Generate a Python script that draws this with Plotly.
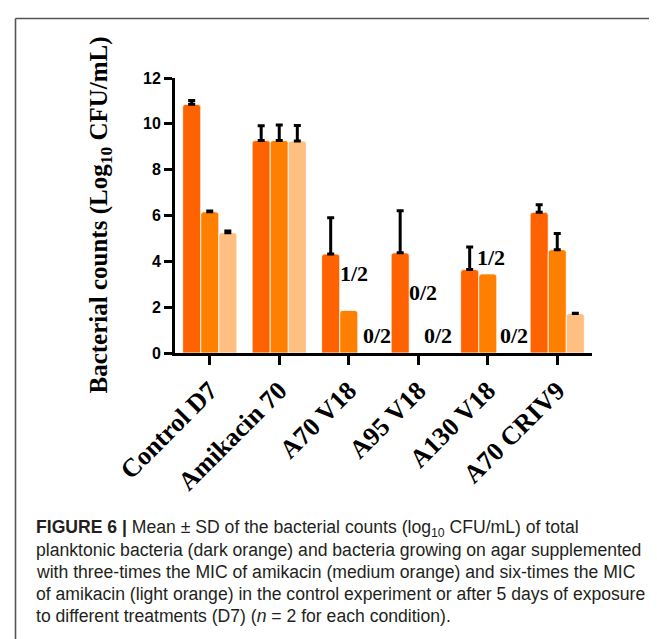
import plotly.graph_objects as go

categories = ["Control D7", "Amikacin 70", "A70 V18", "A95 V18", "A130 V18", "A70 CRIV9"]
total_counts = [10.85, 9.27, 4.32, 4.37, 3.64, 6.14]
total_sd = [0.17, 0.65, 1.58, 1.84, 0.99, 0.33]
mic3_counts = [6.16, 9.27, 1.86, 0, 3.45, 4.51]
mic3_sd = [0.04, 0.68, None, None, None, 0.70]
mic6_counts = [5.25, 9.25, 0, 0, 0, 1.72]
mic6_sd = [0.07, 0.68, None, None, None, 0.02]

# fraction labels: (category index, offset within group, y value, text)
frac_labels = [
    (2, 0.08, 3.49, "1/2"),
    (2, 0.40, 0.76, "0/2"),
    (3, 0.07, 2.64, "0/2"),
    (3, 0.29, 0.76, "0/2"),
    (4, 0.04, 4.17, "1/2"),
    (4, 0.38, 0.76, "0/2"),
]

caption_lines = [
    "<b>FIGURE 6 |</b> Mean ± SD of the bacterial counts (log<sub>10</sub> CFU/mL) of total",
    "planktonic bacteria (dark orange) and bacteria growing on agar supplemented",
    "with three-times the MIC of amikacin (medium orange) and six-times the MIC",
    "of amikacin (light orange) in the control experiment or after 5 days of exposure",
    "to different treatments (D7) (<i>n</i> = 2 for each condition).",
]

W, H = 657, 639
L, R, T, B = 167, 73, 70, 294
pw, ph = W - L - R, H - T - B


def px_x(p):
    return (p - L) / pw


def px_y(p):
    return (H - B - p) / ph


colors = ["#FF6200", "#FF8000", "#FFBF80"]
series = [(total_counts, total_sd), (mic3_counts, mic3_sd), (mic6_counts, mic6_sd)]
names = ["Total", "3x MIC", "6x MIC"]
xs = list(range(len(categories)))

fig = go.Figure()
for (vals, sd), c, n in zip(series, colors, names):
    has_sd = [s is not None for s in sd]
    # bars that carry an SD (error bar drawn upward only)
    fig.add_trace(go.Bar(
        x=xs, y=[v if h else None for v, h in zip(vals, has_sd)], name=n, offsetgroup=n,
        marker=dict(color=c, line=dict(color="white", width=0.8), cornerradius=3),
        error_y=dict(type="data", symmetric=False,
                     array=[s if h else 0 for s, h in zip(sd, has_sd)],
                     arrayminus=[0] * len(sd),
                     color="black", thickness=3, width=3.5),
        showlegend=False,
    ))
    # bars without an SD
    fig.add_trace(go.Bar(
        x=xs, y=[None if h else v for v, h in zip(vals, has_sd)], name=n, offsetgroup=n,
        marker=dict(color=c, line=dict(color="white", width=0.8), cornerradius=3),
        showlegend=False,
    ))

serif = "Liberation Serif, Times New Roman, serif"
sans = "Liberation Sans, Arial, sans-serif"

annotations = []
for ci, off, yv, t in frac_labels:
    annotations.append(dict(x=ci + off, y=yv, xref="x", yref="y", text=t, showarrow=False,
                            font=dict(family=serif, size=22, color="black", weight="bold"),
                            xanchor="center", yanchor="middle"))

annotations.append(dict(x=px_x(92), y=0.5, xref="paper", yref="paper",
                        text="Bacterial counts (Log<sub>10</sub> CFU/mL)", textangle=-90,
                        showarrow=False, xanchor="center", yanchor="middle",
                        font=dict(family=serif, size=25, color="black", weight="bold")))

for i, line in enumerate(caption_lines):
    annotations.append(dict(x=px_x(26), y=px_y(520 + 22 * i), xref="paper", yref="paper",
                            text=line, showarrow=False, xanchor="left", yanchor="middle",
                            font=dict(family=sans, size=17.6, color="#231f20")))

shapes = [
    dict(type="line", xref="paper", yref="paper", x0=px_x(7.5), x1=px_x(660),
         y0=px_y(10.5), y1=px_y(10.5), line=dict(color="#555555", width=1.6)),
    dict(type="line", xref="paper", yref="paper", x0=px_x(7.5), x1=px_x(7.5),
         y0=px_y(10.5), y1=px_y(645), line=dict(color="#555555", width=1.6)),
]

fig.update_layout(
    width=W, height=H,
    margin=dict(l=L, r=R, t=T, b=B),
    paper_bgcolor="white", plot_bgcolor="white",
    barmode="group", bargap=0.22, bargroupgap=0,
    annotations=annotations, shapes=shapes,
    xaxis=dict(range=[-0.5, 5.5], tickmode="array", tickvals=xs,
               ticktext=categories, tickangle=-45,
               tickfont=dict(family=serif, size=26, color="black", weight="bold"),
               showline=True, linecolor="black", linewidth=3, ticks="outside",
               ticklen=9, tickwidth=3, tickcolor="black", showgrid=False, zeroline=False),
    yaxis=dict(range=[0, 12], dtick=2, tick0=0,
               tickfont=dict(family=sans, size=16, color="black", weight="bold"),
               showline=True, linecolor="black", linewidth=3, ticks="outside",
               ticklen=8, tickwidth=3, tickcolor="black", showgrid=False, zeroline=False),
)

fig.write_html("out.html")
